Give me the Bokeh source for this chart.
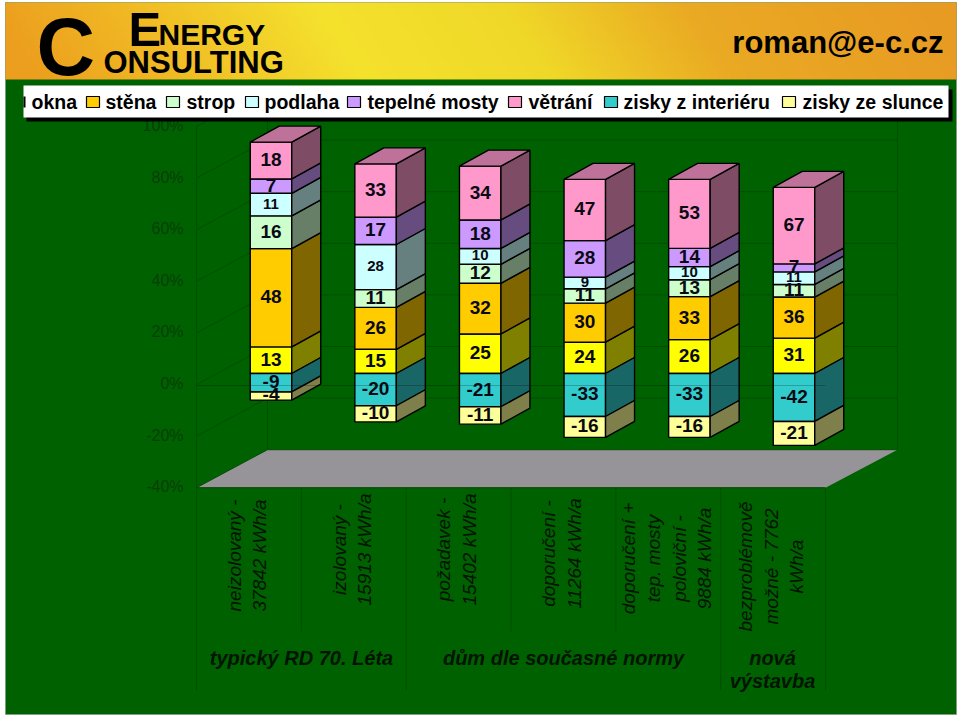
import numpy as np
from bokeh.plotting import figure
from bokeh.core.properties import value
from bokeh.embed import file_html
from bokeh.resources import INLINE

# ---- data ----
series_names = ["okna", "stěna", "strop", "podlaha", "tepelné mosty", "větrání", "zisky z interiéru", "zisky ze slunce"]
okna = [13, 15, 25, 24, 26, 31]
stena = [48, 26, 32, 30, 33, 36]
strop = [16, 11, 12, 11, 13, 11]
podlaha = [11, 28, 10, 9, 10, 11]
mosty = [7, 17, 18, 28, 14, 7]
vetrani = [18, 33, 34, 47, 53, 67]
interier = [-9, -20, -21, -33, -33, -42]
slunce = [-4, -10, -11, -16, -16, -21]
category_lines = [
    ["neizolovaný -", "37842 kWh/a"],
    ["izolovaný -", "15913 kWh/a"],
    ["požadavek -", "15402 kWh/a"],
    ["doporučení -", "11264 kWh/a"],
    ["doporučení +", "tep. mosty", "poloviční -", "9884 kWh/a"],
    ["bezproblémově", "možné - 7762", "kWh/a"],
]
group_labels = [["typický RD 70. Léta"], ["dům dle současné normy"], ["nová", "výstavba"]]
tick_labels = [100, 80, 60, 40, 20, 0, -20, -40]

colors = ["#FFFF00", "#FFCC00", "#CCFFCC", "#CCFFFF", "#CC99FF", "#FF99CC", "#33CCCC", "#FFFF99"]
positive = [okna, stena, strop, podlaha, mosty, vetrani]
negative = [interier, slunce]

# ---- layout: reference pixels -> data units ----
FIG_W, FIG_H = 960, 716
OX, OY = 0, 0
STEP, C0 = 104.6, 270.5
PCT, Z0 = 2.58, 373.0
def X(px): return (px - C0) / STEP
def Y(py): return (Z0 - py) / PCT
def mix(c, f):
    r, g, b = int(c[1:3], 16), int(c[3:5], 16), int(c[5:7], 16)
    return "#%02x%02x%02x" % (int(r * f), int(g * f), int(b * f))

GREEN = "#006100"
GRID = "#004f00"
DIM = "#073f07"
INK = "#001400"

p = figure(width=FIG_W, height=FIG_H, output_backend="svg", toolbar_location=None,
           x_range=(X(OX), X(OX + FIG_W)), y_range=(Y(OY + FIG_H), Y(OY)),
           x_axis_location=None, y_axis_location=None, min_border=0,
           background_fill_color="white", border_fill_color="white", outline_line_color=None)
p.grid.visible = False

FONT = value("Liberation Sans")
LEFT, RIGHT, TOP, BOTTOM = 5, 956, 2, 714

p.quad(left=X(LEFT), right=X(RIGHT), bottom=Y(BOTTOM), top=Y(TOP), fill_color=GREEN, line_color="#7f9f7f", line_width=1)

# ---- walls and floor ----
WALL_D, WALL_H = 71, 38
FL, FR, BR = 196, 825, 897
def front(pct): return 384 - PCT * pct
p.patch([X(FL), X(FL + WALL_D), X(BR), X(FR)],
        [Y(front(-40)), Y(front(-40) - WALL_H), Y(front(-40) - WALL_H), Y(front(-40))],
        fill_color="#969399", line_color=None)
for t in tick_labels:
    yf = front(t)
    p.line([X(FL), X(FL + WALL_D), X(BR)], [Y(yf), Y(yf - WALL_H), Y(yf - WALL_H)], line_color=GRID, line_width=1)
p.line([X(FL + WALL_D)] * 2, [Y(front(100) - WALL_H), Y(front(-40) - WALL_H)], line_color=GRID)
p.line([X(BR)] * 2, [Y(front(100) - WALL_H), Y(front(-40) - WALL_H)], line_color=GRID)
p.line([X(FL)] * 2, [Y(front(100)), Y(front(-40))], line_color=GRID)
p.line([X(FL), X(FR)], [Y(front(-40)), Y(front(-40))], line_color="#004400")

# ---- category separators ----
for k in range(7):
    px = FL + k * (FR - FL) / 6
    long = k in (0, 2, 5, 6)
    p.line([X(px)] * 2, [Y(488), Y(690 if long else 631)], line_color=GRID)

# ---- 100% stacked 3D bars ----
HALF = 20.75 / STEP
DX, DY = 29 / STEP, 16 / PCT
pos = np.array(positive, dtype=float)
neg = np.array(negative, dtype=float)
total = pos.sum(axis=0) + np.abs(neg).sum(axis=0)
pos_pct = pos / total * 100
neg_pct = neg / total * 100
lab_x, lab_y, lab_t, lab_s = [], [], [], []
for c in range(6):
    x0, x1 = c - HALF, c + HALF
    segs = []
    b = 0.0
    for s in range(6):
        segs.append((s, b, b + pos_pct[s, c], positive[s][c]))
        b += pos_pct[s, c]
    top = b
    b = 0.0
    for k in range(2):
        segs.append((6 + k, b, b + neg_pct[k, c], negative[k][c]))
        b += neg_pct[k, c]
    for s, lo, hi, v in segs:
        p.quad(left=x0, right=x1, bottom=lo, top=hi, fill_color=colors[s], line_color="black", line_width=1.4)
        p.patch([x1, x1 + DX, x1 + DX, x1], [lo, lo + DY, hi + DY, hi],
                fill_color=mix(colors[s], 0.5), line_color="black", line_width=1.4)
        lab_x.append(float(c)); lab_y.append((lo + hi) / 2 + 0.4); lab_t.append(str(v))
        lab_s.append("15px" if s == 3 else "19px")
    p.patch([x0, x1, x1 + DX, x0 + DX], [top, top, top + DY, top + DY],
            fill_color=mix(colors[5], 0.75), line_color="black", line_width=1.4)

p.text(lab_x, lab_y, text=lab_t, text_font=FONT, text_font_style="bold", text_color="#0a0a14",
       text_font_size=lab_s, text_align="center", text_baseline="middle")

# category axis line crossing at 0 (front plane), over the bars
p.line([X(FL), X(FR)], [Y(front(0) + 1)] * 2, line_color="black", line_alpha=0.22, line_width=1)

# ---- value axis labels ----
p.text([X(183)] * len(tick_labels), [Y(front(t) - 1) for t in tick_labels], text=[f"{t}%" for t in tick_labels],
       text_font=FONT, text_color=DIM, text_font_size="16px", text_align="right", text_baseline="middle")

# ---- category labels ----
cat_cy = [555, 549, 549, 553, 558, 566]
for c, lines in enumerate(category_lines):
    cx = FL + (c + 0.5) * (FR - FL) / 6 - 2
    n = len(lines)
    p.text([X(cx + (k - (n - 1) / 2) * 25.5) for k in range(n)], [Y(cat_cy[c])] * n, text=lines,
           angle=np.pi / 2, text_font=FONT, text_font_style="italic", text_color=INK,
           text_font_size="19px", text_align="center", text_baseline="middle")
group_cx = [301, 563, 772]
for g, lines in enumerate(group_labels):
    p.text([X(group_cx[g])] * len(lines), [Y(657 + 23 * k) for k in range(len(lines))], text=lines,
           text_font=FONT, text_font_style="bold italic", text_color=INK,
           text_font_size="20px", text_align="center", text_baseline="middle")

# ---- banner ----
nx, ny = 240, 20
img = np.zeros((ny, nx), dtype=np.uint32)
stops_u = [0.0, 0.12, 0.35, 0.55, 0.74, 1.0]
stops_c = np.array([[236, 158, 30], [240, 180, 35], [245, 226, 45], [240, 216, 40], [234, 170, 35], [232, 155, 35]])
for j in range(ny):
    for i in range(nx):
        u = i / (nx - 1) + 0.05 * (j / (ny - 1) - 0.5)
        r, g, b = [np.interp(u, stops_u, stops_c[:, q]) for q in range(3)]
        img[j, i] = (255 << 24) | (int(b) << 16) | (int(g) << 8) | int(r)
p.image_rgba(image=[img], x=X(LEFT), y=Y(79), dw=X(RIGHT) - X(LEFT), dh=Y(TOP) - Y(79))

def logo(x, y, txt, size, align="left"):
    p.text([X(x)], [Y(y)], text=[txt], text_font=FONT, text_font_style="bold", text_color="black",
           text_font_size=size, text_align=align, text_baseline="middle")
logo(36, 46, "C", "81px")
logo(128, 28, "E", "49px")
logo(158, 34, "NERGY", "30px")
logo(103, 62, "ONSULTING", "31px")
logo(943, 42, "roman@e-c.cz", "31px", "right")

# ---- legend box ----
p.quad(left=X(26), right=X(952), bottom=Y(121), top=Y(89), fill_color="black", line_color=None)
p.quad(left=X(23), right=X(948), bottom=Y(117), top=Y(85), fill_color="white", line_color=None)
leg_text_x = [31, 105, 186, 264, 367, 528, 623, 802]
p.text([X(v) for v in leg_text_x], [Y(101.5)] * 8, text=series_names, text_font=FONT, text_font_style="bold",
       text_color="black", text_font_size="19.5px", text_align="left", text_baseline="middle")
leg_swatch_x = [None, 86, 166, 245, 347, 508, 604, 782]
for s in range(1, 8):
    p.quad(left=X(leg_swatch_x[s]), right=X(leg_swatch_x[s] + 13), bottom=Y(107), top=Y(96),
           fill_color=colors[s], line_color="black", line_width=1.2)
p.quad(left=X(23), right=X(25), bottom=Y(107), top=Y(96), fill_color="black", line_color=None)

open("out.html", "w").write(file_html(p, INLINE))
